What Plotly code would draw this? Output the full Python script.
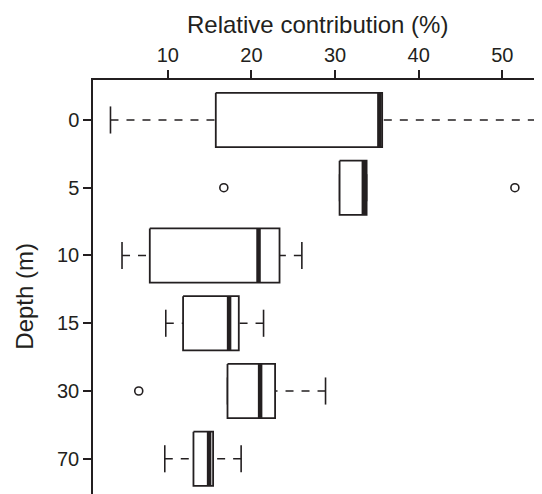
import plotly.graph_objects as go

# ---- data ----
depth_labels = ["0", "5", "10", "15", "30", "70"]
whisker_low = [3.15, 30.54, 4.53, 9.76, 17.14, 9.64]
q1 = [15.74, 30.54, 7.85, 11.83, 17.14, 13.07]
median = [35.3, 33.44, 20.85, 17.33, 21.04, 14.94]
q3 = [35.63, 33.77, 23.36, 18.49, 22.83, 15.42]
whisker_high = [54.0, 33.77, 26.03, 21.45, 28.86, 18.77]
outlier_depth = ["5", "5", "30"]
outlier_value = [16.7, 51.5, 6.53]
x_ticks = [10, 20, 30, 40, 50]

INK = "#231f20"
BOXW = 0.8
CAPW = 0.4
pos = {lab: i for i, lab in enumerate(depth_labels)}

fig = go.Figure()

# whiskers (dashed, drawn from whisker end toward the box) and caps
for i in range(len(depth_labels)):
    for end, edge in ((whisker_low[i], q1[i]), (whisker_high[i], q3[i])):
        fig.add_trace(go.Scatter(x=[end, edge], y=[i, i], mode="lines",
                                 line=dict(color=INK, width=1.5, dash="8px,8px"),
                                 hoverinfo="skip", showlegend=False, cliponaxis=False))
        fig.add_trace(go.Scatter(x=[end, end], y=[i - CAPW / 2, i + CAPW / 2], mode="lines",
                                 line=dict(color=INK, width=1.6),
                                 hoverinfo="skip", showlegend=False, cliponaxis=False))

# boxes with thick medians
for i in range(len(depth_labels)):
    h = BOXW / 2
    fig.add_trace(go.Scatter(x=[q1[i], q3[i], q3[i], q1[i], q1[i]],
                             y=[i - h, i - h, i + h, i + h, i - h],
                             mode="lines", fill="toself", fillcolor="white",
                             line=dict(color=INK, width=1.8),
                             hoverinfo="skip", showlegend=False, cliponaxis=False))
    fig.add_trace(go.Scatter(x=[median[i], median[i]], y=[i - h, i + h], mode="lines",
                             line=dict(color=INK, width=4.5),
                             hoverinfo="skip", showlegend=False, cliponaxis=False))

# outliers
fig.add_trace(go.Scatter(x=outlier_value, y=[pos[d] for d in outlier_depth], mode="markers",
                         marker=dict(symbol="circle-open", size=8, color=INK, line=dict(width=1.6)),
                         hoverinfo="skip", showlegend=False, cliponaxis=False))

# the page body adds an 8px offset; size the figure to end at the window edge
W, H = 534, 486
L, T = 85.3, 72
pw, ph = W - L, H - T
fig.update_layout(
    width=W, height=H,
    margin=dict(l=L, r=0, t=T, b=0, pad=0),
    paper_bgcolor="white", plot_bgcolor="white",
    font=dict(family="Liberation Sans, Arial, Helvetica, sans-serif", color=INK),
    xaxis=dict(side="top", range=[1.06, 54.74], tickvals=x_ticks,
               ticktext=[str(t) for t in x_ticks],
               showgrid=False, zeroline=False, showline=True, linecolor=INK, linewidth=1.5,
               ticks="outside", ticklen=8, tickwidth=1.5, tickcolor=INK,
               tickfont=dict(size=20, color=INK)),
    yaxis=dict(range=[5.52, -0.59], tickvals=list(range(len(depth_labels))),
               ticktext=depth_labels,
               showgrid=False, zeroline=False, showline=True, linecolor=INK, linewidth=1.5,
               ticks="outside", ticklen=8, tickwidth=1.5, tickcolor=INK,
               tickfont=dict(size=20, color=INK)),
)
fig.add_annotation(text="Relative contribution (%)", xref="paper", yref="paper",
                   x=0.5, y=1 + (T - 16) / ph,
                   showarrow=False, font=dict(size=24, color=INK),
                   xanchor="center", yanchor="middle")
fig.add_annotation(text="Depth (m)", xref="paper", yref="paper",
                   x=(16 - L) / pw, y=1 - (288 - T) / ph, textangle=-90,
                   showarrow=False, font=dict(size=24, color=INK),
                   xanchor="center", yanchor="middle")

fig.write_html("out.html")
